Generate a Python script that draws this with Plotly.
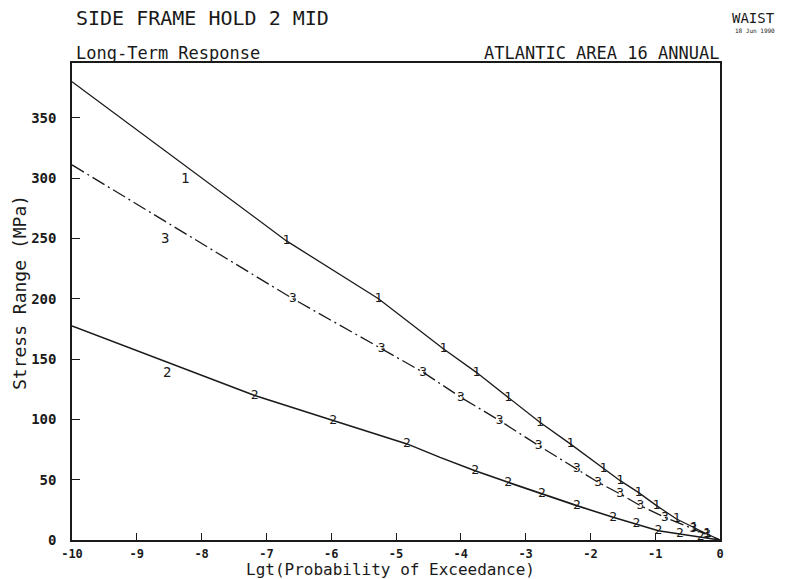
import plotly.graph_objects as go

# ---- data ----
x_curve1 = [-10, -6.69, -5.27, -4.27, -3.76, -3.27, -2.78, -2.31, -1.80, -1.54, -1.26, -0.98, -0.67, -0.40, -0.20, 0]
y_curve1 = [380, 248, 200, 158.5, 139, 118, 97.6, 79.7, 59, 49.2, 39.5, 28.5, 17.4, 10, 5, 0]

x_curve2 = [-10, -8.54, -7.18, -5.97, -4.83, -4.32, -3.78, -3.27, -2.75, -2.21, -1.65, -1.29, -0.95, -0.62, -0.30, 0]
y_curve2 = [177.5, 147.4, 119.8, 99, 79.7, 68.5, 57.5, 47.8, 38.2, 28.5, 18.8, 13.3, 7.7, 5, 2.5, 0]

x_curve3 = [-10, -6.59, -5.22, -4.58, -4.00, -3.40, -2.80, -2.21, -1.88, -1.54, -1.23, -0.85, -0.41, -0.20, 0]
y_curve3 = [311, 200, 158.5, 139, 118.3, 99, 78.3, 58.9, 47.8, 38.2, 28.5, 18.8, 9.1, 4.5, 0]

# labels along curves (blank where no label is drawn)
lab_curve1 = [""] + ["1"] * 14 + [""]
lab_curve2 = ["", "", "2", "2", "2", ""] + ["2"] * 9 + [""]
lab_curve3 = [""] + ["3"] * 13 + [""]

# offset curve-name labels
name_labels = ["1", "2", "3"]
name_x = [-8.26, -8.53, -8.56]
name_y = [300, 139, 250]

x_ticks = [-10, -9, -8, -7, -6, -5, -4, -3, -2, -1, 0]
y_ticks = [0, 50, 100, 150, 200, 250, 300, 350]

title_text = "SIDE FRAME HOLD 2 MID"
subtitle_left = "Long-Term Response"
subtitle_right = "ATLANTIC AREA 16 ANNUAL"
corner_text = "WAIST"
corner_date = "18 Jun 1990"
x_title = "Lgt(Probability of Exceedance)"
y_title = "Stress Range (MPa)"

MONO = "DejaVu Sans Mono"
INK = "#1a1a1a"

fig = go.Figure()

def add_curve(xs, ys, labels, dash, width):
    fig.add_trace(go.Scatter(
        x=xs, y=ys, mode="lines+text", text=labels,
        textposition="middle center",
        textfont=dict(family=MONO, size=13, color=INK),
        line=dict(color=INK, width=width, dash=dash),
        showlegend=False, hoverinfo="skip",
    ))

add_curve(x_curve1, y_curve1, lab_curve1, "solid", 1.3)
add_curve(x_curve2, y_curve2, lab_curve2, "solid", 1.6)
add_curve(x_curve3, y_curve3, lab_curve3, "14px,4px,2px,4px", 1.3)

annotations = []
for t, xv, yv in zip(name_labels, name_x, name_y):
    annotations.append(dict(x=xv, y=yv, xref="x", yref="y", text=t, showarrow=False,
                            font=dict(family=MONO, size=14, color=INK)))

# page-level texts (paper coords computed from plot area 72..720 x, 63..540 y)
def px(xp):
    return (xp - 72) / 648.0

def py(yp):
    return (540 - yp) / 477.0

annotations += [
    dict(x=px(74), y=py(18), xref="paper", yref="paper", text=title_text, showarrow=False,
         xanchor="left", yanchor="middle", font=dict(family=MONO, size=20, color=INK)),
    dict(x=px(74), y=py(53), xref="paper", yref="paper", text=subtitle_left, showarrow=False,
         xanchor="left", yanchor="middle", font=dict(family=MONO, size=17, color=INK)),
    dict(x=px(721), y=py(53), xref="paper", yref="paper", text=subtitle_right, showarrow=False,
         xanchor="right", yanchor="middle", font=dict(family=MONO, size=17, color=INK)),
    dict(x=px(777), y=py(18), xref="paper", yref="paper", text=corner_text, showarrow=False,
         xanchor="right", yanchor="middle", font=dict(family=MONO, size=14, color=INK)),
    dict(x=px(777), y=py(30), xref="paper", yref="paper", text=corner_date, showarrow=False,
         xanchor="right", yanchor="middle", font=dict(family=MONO, size=6, color=INK)),
    dict(x=px(390), y=py(569.5), xref="paper", yref="paper", text=x_title, showarrow=False,
         xanchor="center", yanchor="middle", font=dict(family=MONO, size=16, color=INK)),
    dict(x=px(19), y=py(293), xref="paper", yref="paper", text=y_title, showarrow=False,
         textangle=-90, xanchor="center", yanchor="middle", font=dict(family=MONO, size=18, color=INK)),
]

fig.update_layout(
    width=791, height=579,
    margin=dict(l=72, r=71, t=63, b=39, pad=0),
    paper_bgcolor="white", plot_bgcolor="white",
    annotations=annotations,
    showlegend=False,
)
fig.update_xaxes(
    range=[-10, 0], tickvals=x_ticks, ticktext=[str(v) for v in x_ticks],
    ticks="inside", ticklen=7, tickwidth=1.3, tickcolor=INK,
    showline=True, linecolor=INK, linewidth=1.5, mirror=True,
    showgrid=False, zeroline=False, ticklabelstandoff=2,
    tickfont=dict(family=MONO, size=12, color=INK, weight="bold"),
)
fig.update_yaxes(
    range=[0, 395.5], tickvals=y_ticks, ticktext=[str(v) for v in y_ticks],
    ticks="inside", ticklen=8, tickwidth=1.3, tickcolor=INK,
    showline=True, linecolor=INK, linewidth=1.5, mirror=True,
    showgrid=False, zeroline=False, ticklabelstandoff=11,
    tickfont=dict(family=MONO, size=14, color=INK, weight="bold"),
)

fig.write_html("out.html")
